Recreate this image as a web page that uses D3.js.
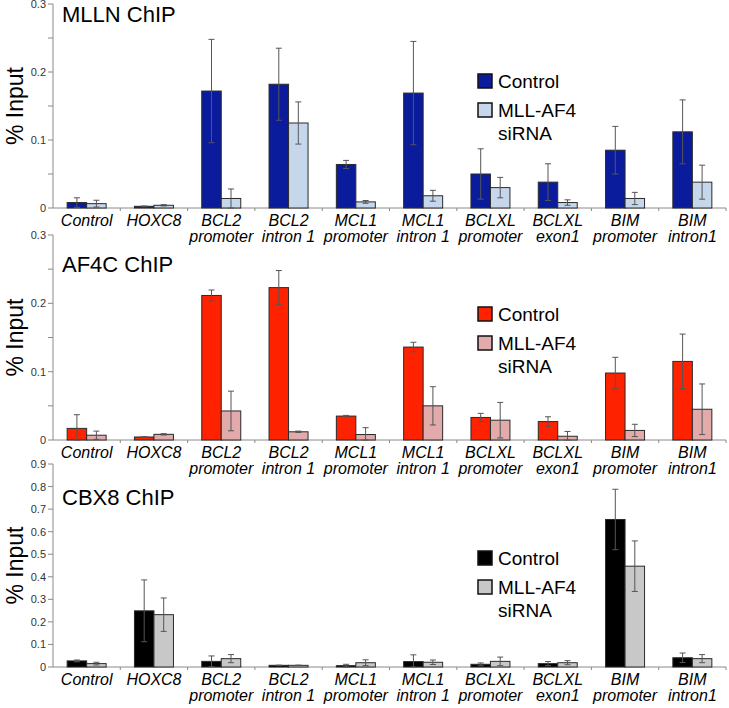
<!DOCTYPE html>
<html>
<head>
<meta charset="utf-8">
<script src="https://cdn.jsdelivr.net/npm/d3@7"></script>
<style>
  body { margin: 0; background: #fff; }
  svg { font-family: "Liberation Sans", Arial, sans-serif; }
</style>
</head>
<body>
<div id="chart"></div>
<script>
// categories (two-line labels)
var genes = ["Control", "HOXC8", "BCL2", "BCL2", "MCL1", "MCL1", "BCLXL", "BCLXL", "BIM", "BIM"];
var regions = ["", "", "promoter", "intron 1", "promoter", "intron 1", "promoter", "exon1", "promoter", "intron1"];
var seriesNames = ["Control", "MLL-AF4", "siRNA"];

// MLLN ChIP
var mllnControl = [0.008, 0.0025, 0.172, 0.182, 0.064, 0.169, 0.050, 0.038, 0.085, 0.112];
var mllnControlErr = [0.007, 0.0005, 0.076, 0.053, 0.006, 0.076, 0.037, 0.027, 0.035, 0.047];
var mllnSirna = [0.0064, 0.004, 0.014, 0.125, 0.009, 0.018, 0.030, 0.008, 0.014, 0.038];
var mllnSirnaErr = [0.005, 0.001, 0.014, 0.031, 0.002, 0.008, 0.015, 0.004, 0.009, 0.025];

// AF4C ChIP
var af4cControl = [0.017, 0.0044, 0.2115, 0.223, 0.035, 0.136, 0.033, 0.027, 0.098, 0.115];
var af4cControlErr = [0.02, 0.0005, 0.008, 0.025, 0.001, 0.007, 0.006, 0.007, 0.023, 0.04];
var af4cSirna = [0.007, 0.0083, 0.0425, 0.012, 0.008, 0.050, 0.029, 0.0055, 0.014, 0.045];
var af4cSirnaErr = [0.006, 0.001, 0.029, 0.001, 0.01, 0.028, 0.026, 0.007, 0.009, 0.037];

// CBX8 ChIP
var cbx8Control = [0.027, 0.249, 0.025, 0.0074, 0.006, 0.024, 0.012, 0.015, 0.654, 0.041];
var cbx8ControlErr = [0.004, 0.137, 0.024, 0.001, 0.006, 0.03, 0.006, 0.009, 0.134, 0.021];
var cbx8Sirna = [0.015, 0.232, 0.037, 0.0074, 0.019, 0.021, 0.025, 0.019, 0.447, 0.037];
var cbx8SirnaErr = [0.006, 0.074, 0.018, 0.001, 0.013, 0.01, 0.019, 0.009, 0.112, 0.018];

var svgWidth = 729;
var svgHeight = 708;

var svg = d3.select("#chart")
  .append("svg")
  .attr("width", svgWidth)
  .attr("height", svgHeight);

var xScale = d3.scaleBand()
  .domain(d3.range(genes.length))
  .range([53, 726])
  .paddingInner(0)
  .paddingOuter(0);

var barW = 19.5;

function drawPanel(p) {
  var g = svg.append("g");

  var yScale = d3.scaleLinear()
    .domain([0, p.max])
    .range([p.zeroY, p.topY]);

  // y axis line
  g.append("line")
    .attr("x1", 53).attr("x2", 53)
    .attr("y1", yScale(0)).attr("y2", yScale(p.max))
    .attr("stroke", "#8a8a8a").attr("stroke-width", 1);

  // minor + major ticks
  p.ticks.forEach(function (t) {
    g.append("line")
      .attr("x1", 48).attr("x2", 53)
      .attr("y1", yScale(t)).attr("y2", yScale(t))
      .attr("stroke", "#8a8a8a");
  });
  p.labels.forEach(function (t) {
    g.append("text")
      .attr("x", 46)
      .attr("y", yScale(t) + 4)
      .attr("text-anchor", "end")
      .style("font-size", "11px")
      .style("fill", "#333")
      .text(t === 0 ? "0" : d3.format(".1f")(t));
  });

  // x axis line and ticks
  g.append("line")
    .attr("x1", 53).attr("x2", 726)
    .attr("y1", yScale(0)).attr("y2", yScale(0))
    .attr("stroke", "#8a8a8a");
  d3.range(1, genes.length + 1).forEach(function (i) {
    var x = 53 + i * xScale.bandwidth();
    g.append("line")
      .attr("x1", x).attr("x2", x)
      .attr("y1", yScale(0)).attr("y2", yScale(0) + 3)
      .attr("stroke", "#8a8a8a");
  });

  // bars
  var series = [
    { vals: p.ctrl, errs: p.ctrlErr, color: p.c1, off: -barW },
    { vals: p.sirna, errs: p.sirnaErr, color: p.c2, off: 0 }
  ];
  series.forEach(function (s) {
    g.selectAll(null)
      .data(s.vals)
      .enter()
      .append("rect")
      .attr("x", function (d, i) { return xScale(i) + xScale.bandwidth() / 2 + s.off; })
      .attr("y", function (d) { return yScale(d); })
      .attr("width", barW)
      .attr("height", function (d) { return yScale(0) - yScale(d); })
      .attr("fill", s.color)
      .attr("stroke", "#2a2a2a")
      .attr("stroke-width", 1);
  });

  // error bars
  series.forEach(function (s) {
    s.vals.forEach(function (v, i) {
      var cx = xScale(i) + xScale.bandwidth() / 2 + s.off + barW / 2;
      var y1 = yScale(v + s.errs[i]);
      var y2 = yScale(Math.max(v - s.errs[i], 0));
      g.append("line")
        .attr("x1", cx).attr("x2", cx).attr("y1", y1).attr("y2", y2)
        .attr("stroke", "#555").attr("stroke-width", 1);
      [y1, y2].forEach(function (yy) {
        g.append("line")
          .attr("x1", cx - 3).attr("x2", cx + 3).attr("y1", yy).attr("y2", yy)
          .attr("stroke", "#555").attr("stroke-width", 1);
      });
    });
  });

  // category labels
  genes.forEach(function (name, i) {
    var cx = xScale(i) + xScale.bandwidth() / 2;
    g.append("text")
      .attr("x", cx).attr("y", yScale(0) + 18)
      .attr("text-anchor", "middle")
      .style("font-size", "16px")
      .style("font-style", "italic")
      .text(name);
    if (regions[i]) {
      g.append("text")
        .attr("x", cx).attr("y", yScale(0) + 34)
        .attr("text-anchor", "middle")
        .style("font-size", "16px")
        .style("font-style", "italic")
        .text(regions[i]);
    }
  });

  // title
  g.append("text")
    .attr("x", 62).attr("y", p.titleY)
    .style("font-size", "22px")
    .text(p.title);

  // y label
  g.append("text")
    .attr("transform", "translate(23," + ((p.zeroY + p.topY) / 2) + ") rotate(-90)")
    .attr("text-anchor", "middle")
    .style("font-size", "23px")
    .text("% Input");

  // legend
  var lx = 478;
  g.append("rect")
    .attr("x", lx).attr("y", p.legY)
    .attr("width", 14).attr("height", 14)
    .attr("fill", p.c1).attr("stroke", "#111").attr("stroke-width", 1.5);
  g.append("text")
    .attr("x", lx + 20).attr("y", p.legY + 14)
    .style("font-size", "19px")
    .text(seriesNames[0]);
  g.append("rect")
    .attr("x", lx).attr("y", p.legY + 29)
    .attr("width", 14).attr("height", 14)
    .attr("fill", p.c2).attr("stroke", "#111").attr("stroke-width", 1.5);
  g.append("text")
    .attr("x", lx + 20).attr("y", p.legY + 43)
    .style("font-size", "19px")
    .text(seriesNames[1]);
  g.append("text")
    .attr("x", lx + 20).attr("y", p.legY + 66)
    .style("font-size", "19px")
    .text(seriesNames[2]);
}

drawPanel({
  title: "MLLN ChIP", titleY: 22,
  max: 0.3, zeroY: 208, topY: 4,
  ticks: [0, 0.05, 0.1, 0.15, 0.2, 0.25, 0.3], labels: [0, 0.1, 0.2, 0.3],
  ctrl: mllnControl, ctrlErr: mllnControlErr, sirna: mllnSirna, sirnaErr: mllnSirnaErr,
  c1: "#0a1c9c", c2: "#c6d7ec", legY: 74
});

drawPanel({
  title: "AF4C ChIP", titleY: 272,
  max: 0.3, zeroY: 440, topY: 235,
  ticks: [0, 0.05, 0.1, 0.15, 0.2, 0.25, 0.3], labels: [0, 0.1, 0.2, 0.3],
  ctrl: af4cControl, ctrlErr: af4cControlErr, sirna: af4cSirna, sirnaErr: af4cSirnaErr,
  c1: "#ff2200", c2: "#e2aaaa", legY: 307
});

drawPanel({
  title: "CBX8 ChIP", titleY: 505,
  max: 0.9, zeroY: 667, topY: 464,
  ticks: [0, 0.1, 0.2, 0.3, 0.4, 0.5, 0.6, 0.7, 0.8, 0.9], labels: [0, 0.1, 0.2, 0.3, 0.4, 0.5, 0.6, 0.7, 0.8, 0.9],
  ctrl: cbx8Control, ctrlErr: cbx8ControlErr, sirna: cbx8Sirna, sirnaErr: cbx8SirnaErr,
  c1: "#000000", c2: "#c8c8c8", legY: 551
});
</script>
</body>
</html>
